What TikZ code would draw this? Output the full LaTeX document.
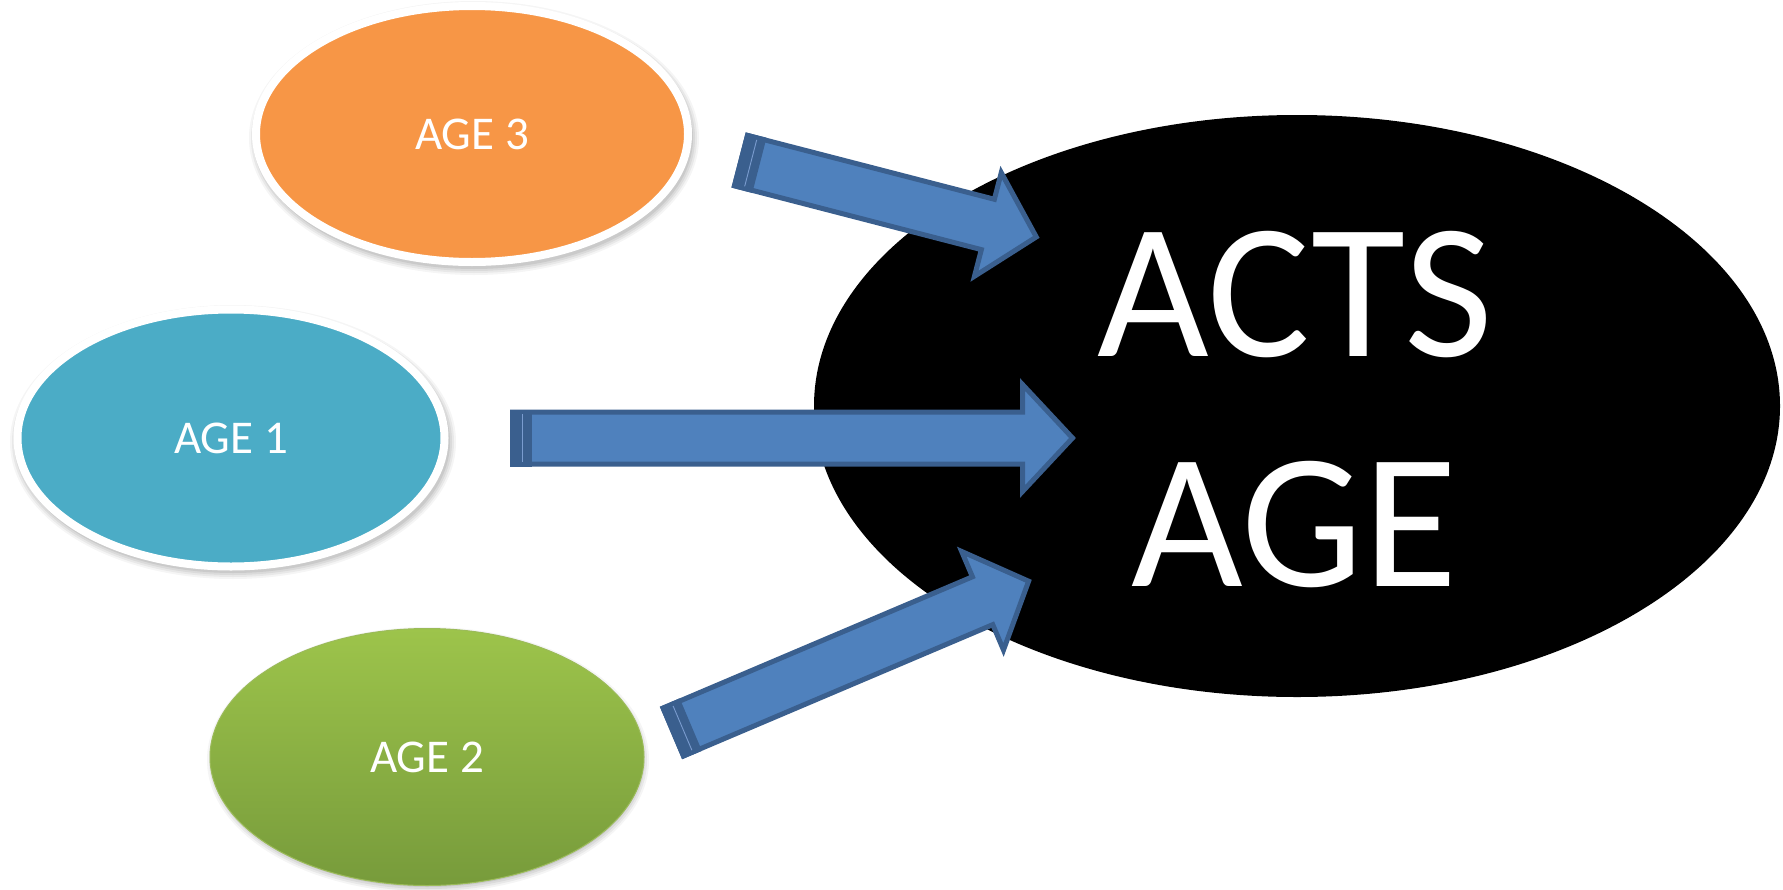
\documentclass[tikz,border=0pt]{standalone}
\usepackage{fontspec}
\setmainfont{Carlito}
\usetikzlibrary{shapes.geometric}
\definecolor{orangeF}{HTML}{F79646}
\definecolor{blueF}{HTML}{4BACC6}
\definecolor{greenT}{HTML}{9DC44B}
\definecolor{greenB}{HTML}{779B3B}
\definecolor{greenE}{HTML}{9BBB59}
\definecolor{arrowF}{HTML}{4F81BD}
\definecolor{arrowD}{HTML}{3A5F8E}
\definecolor{arrowL}{HTML}{7A9CCF}
\newcommand\myblockarrow[1]{%
  \draw[arrowbody] (0,-26) -- ({#1-50},-26) -- ({#1-50},-53.5) -- (#1,0) -- ({#1-50},53.5) -- ({#1-50},26) -- (0,26) -- cycle;
  \fill[arrowD] (-2.5,-28.5) rectangle (19,28.5);
  \draw[arrowL, line width=0.9pt] (10,-24) -- (10,24);
}
\begin{document}
\begin{tikzpicture}[x=1pt,y=-1pt,
  bubble/.style={ellipse, inner sep=0pt, text=white, font=\fontsize{47}{56}\selectfont},
  bigtext/.style={anchor=base, inner sep=0pt, text=white, font=\fontsize{193}{230}\selectfont},
  arrowbody/.style={fill=arrowF, draw=arrowD, line width=5pt, line join=miter},
  shadowlayer/.style={fill=black, opacity=#1}]
\fill[white] (0,0) rectangle (1783,889);
\useasboundingbox (0,0) rectangle (1783,889);

% big black ellipse
\node[ellipse, fill=black, inner sep=0pt, minimum width=966, minimum height=582] (acts) at (1297,406) {};
\node[bigtext] (actsA) at (1295,356) {ACTS};
\node[bigtext] (actsB) at (1294.5,586) {AGE};

% shadows
\coordinate (c3) at (472,134);
\coordinate (c1) at (231,438);
\coordinate (c2) at (427,757);
\foreach \r/\o in {7/0.04,5/0.05,3/0.06,1/0.07}{
  \fill[shadowlayer=\o] ([shift={(2,4)}]c3) ellipse [x radius=218+\r, y radius=130+\r];
  \fill[shadowlayer=\o] ([shift={(2,4)}]c1) ellipse [x radius=216+\r, y radius=130+\r];
  \fill[shadowlayer=\o] ([shift={(1,3)}]c2) ellipse [x radius=214+\r, y radius=126+\r];
}

% ellipses
\node[bubble, fill=orangeF, draw=white, line width=8pt, minimum width=432, minimum height=256] (age3) at (c3) {AGE 3};
\node[bubble, fill=blueF, draw=white, line width=8pt, minimum width=427, minimum height=257] (age1) at (c1) {AGE 1};
\node[bubble, top color=greenT, bottom color=greenB, draw=greenE, line width=1pt, minimum width=434, minimum height=257] (age2) at (c2) {AGE 2};

% block arrows
\coordinate (a3tail) at (741,160.6);
\coordinate (a1tail) at (512.5,438);
\coordinate (a2tail) at (673.3,732);
\begin{scope}[shift={(a3tail)}, rotate=-14.5]
  \myblockarrow{305}
\end{scope}
\begin{scope}[shift={(a1tail)}]
  \myblockarrow{560}
\end{scope}
\begin{scope}[shift={(a2tail)}, rotate=23]
  \myblockarrow{386}
\end{scope}
\end{tikzpicture}
\end{document}
